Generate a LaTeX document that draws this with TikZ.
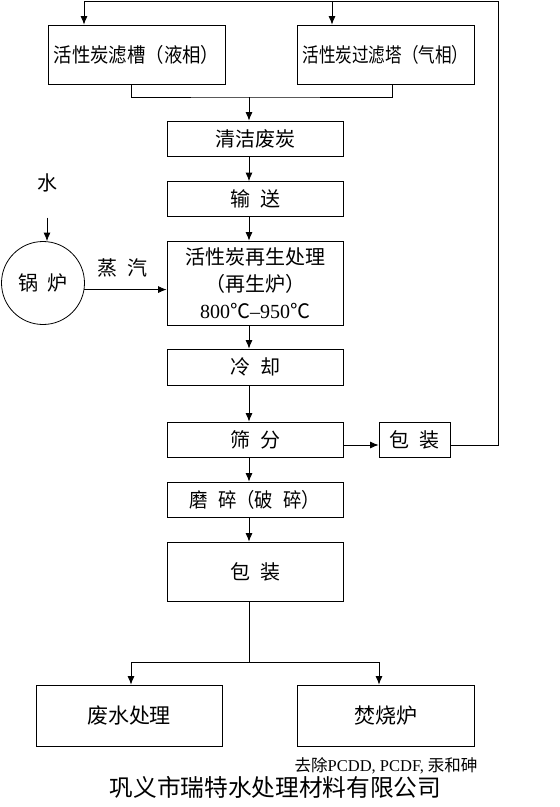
\documentclass[tikz,border=0pt]{standalone}
\usepackage{fontspec}
\setmainfont{Noto Sans CJK SC}
\newfontfamily\latin{Liberation Serif}
\newfontfamily\cjknarrow[FakeStretch=0.92]{Noto Sans CJK SC}
\newfontfamily\cjkthin[FakeStretch=0.83]{Noto Sans CJK SC}
\usetikzlibrary{arrows.meta}
\newcommand{\kong}{\hspace{0.5em}}

\tikzset{
  stepbox/.style={draw, line width=0.8pt, inner sep=0pt, minimum width=176pt, minimum height=35pt,
    font=\fontsize{20}{27}\selectfont, align=center},
  label/.style={font=\fontsize{20}{22}\selectfont},
  line/.style={line width=0.8pt},
  arr/.style={line width=0.8pt, -{Latex[length=8.5pt,width=7pt]}},
}

\begin{document}
\begin{tikzpicture}[x=1pt,y=-1pt]
\useasboundingbox (0,0) rectangle (560,807);
% carbon filters
\node[stepbox, minimum width=177pt, minimum height=59pt, font=\cjknarrow\fontsize{20}{22}\selectfont] (tank) at (136.5,54.5) {活性炭滤槽（液相）};
\node[stepbox, minimum width=177pt, minimum height=59pt, font=\cjkthin\fontsize{20}{22}\selectfont] (tower) at (385.5,54.5) {活性炭过滤塔（气相）};
% main column
\coordinate (spine) at (249,0);
\node[stepbox] (clean) at (255,138.5) {清洁废炭};
\node[stepbox] (feed) at (255,199) {输\kong 送};
\node[stepbox, minimum height=84pt] (regen) at (255,283) {活性炭再生处理\\（再生炉）\\{\latin 800}℃{\latin –950}℃};
\node[stepbox, minimum height=36pt] (cool) at (255,367) {冷\kong 却};
\node[stepbox] (sieve) at (255,439.5) {筛\kong 分};
\node[stepbox, minimum width=71pt] (pack2) at (414.5,439.5) {包\kong 装};
\node[stepbox, font=\cjknarrow\fontsize{20}{22}\selectfont] (crush) at (255,499.5) {磨\kong 碎（破\kong 碎）};
\node[stepbox, minimum height=59pt] (pack) at (255,571.5) {包\kong 装};
\node[stepbox, minimum width=186pt, minimum height=61pt, font=\fontsize{21}{23}\selectfont] (waste) at (129,715.5) {废水处理};
\node[stepbox, minimum width=177pt, minimum height=61pt, font=\fontsize{21}{23}\selectfont] (incin) at (385.5,715.5) {焚烧炉};
% boiler
\node[label] (water) at (47,183) {水};
\node[draw, line width=0.8pt, circle, minimum size=83pt, inner sep=0pt, label] (boiler) at (43,283) {锅\kong 炉};
\node[label] (steam) at (122,268) {蒸\kong 汽};
% notes
\node[font=\fontsize{16.5}{18}\selectfont] (note) at (386,766) {去除{\latin PCDD, PCDF,} 汞和砷};
\node[font=\fontsize{23.7}{26}\selectfont] (company) at (275.5,787) {巩义市瑞特水处理材料有限公司};

% connectors
\coordinate (ret) at (498,1);
\coordinate (joinA) at (249,97);
\coordinate (fork) at (249,662);
\draw[arr] ([yshift=-5.5pt]pack2.east) -| (ret) -| ([xshift=-52.5pt]tank.north);
\draw[arr] ([xshift=-53.5pt]tower.north |- ret) -- ([xshift=-53.5pt]tower.north);
\draw[line] ([xshift=-5.5pt]tank.south) |- (joinA) -| ([xshift=6.5pt]tower.south);
\draw[arr] (joinA) -- (clean.north -| spine);
\draw[arr] (clean.south -| spine) -- (feed.north -| spine);
\draw[arr] (feed.south -| spine) -- (regen.north -| spine);
\draw[arr] (regen.south -| spine) -- (cool.north -| spine);
\draw[arr] (cool.south -| spine) -- (sieve.north -| spine);
\draw[arr] ([yshift=-5.5pt]sieve.east) -- ([yshift=-5.5pt]pack2.west);
\draw[arr] (sieve.south -| spine) -- (crush.north -| spine);
\draw[arr] (crush.south -| spine) -- (pack.north -| spine);
\draw[line] (pack.south -| spine) -- (fork);
\draw[arr] (fork) -| ([xshift=2pt]waste.north);
\draw[arr] (fork) -| ([xshift=-6.5pt]incin.north);
\draw[arr, shorten <=22pt] (water) -- (boiler.north -| water);
\draw[arr] (boiler.-9) -- (boiler.-9 -| regen.west);
\end{tikzpicture}
\end{document}
